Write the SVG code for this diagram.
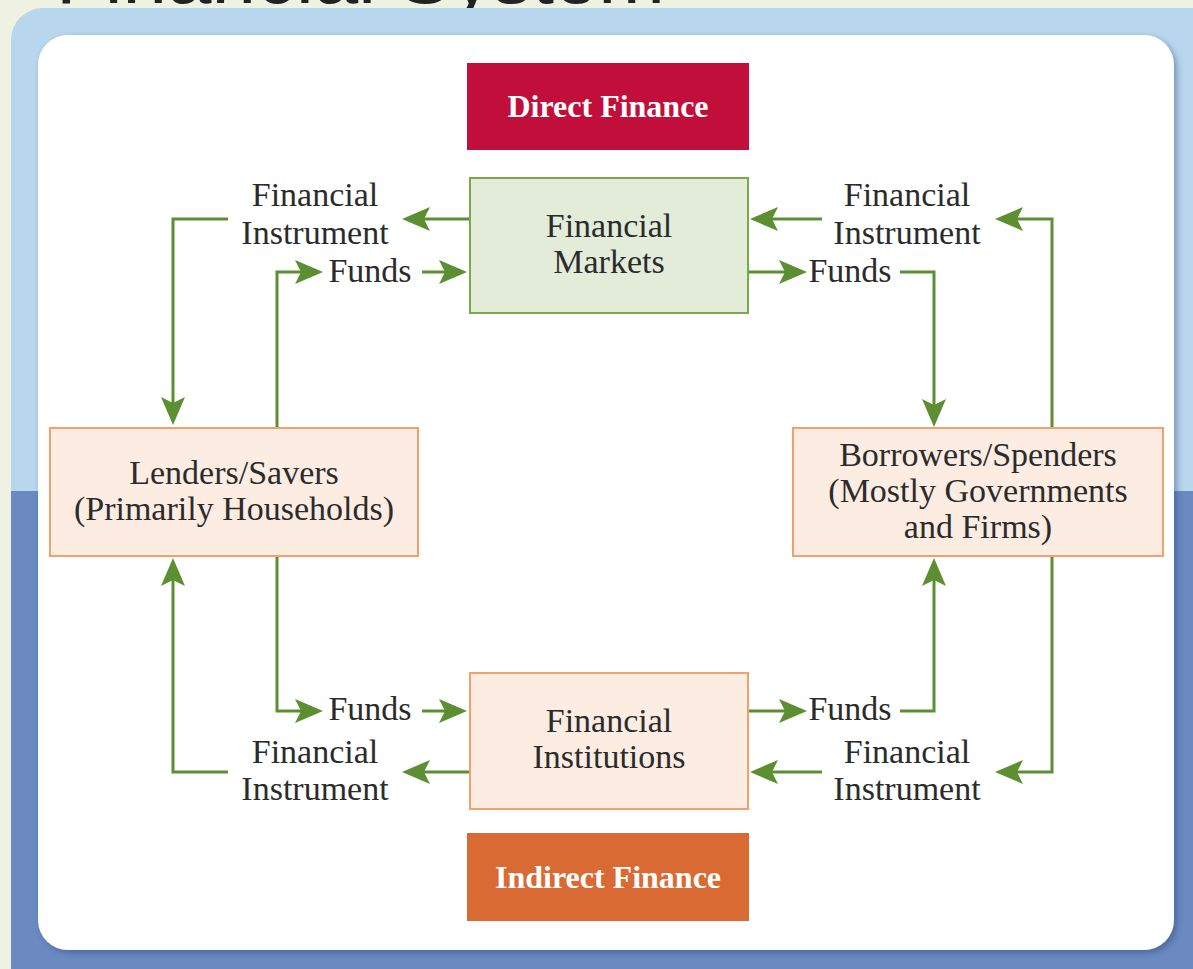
<svg xmlns="http://www.w3.org/2000/svg" width="1193" height="969" viewBox="0 0 1193 969">
  <style>
    .t { font-family: "Liberation Serif", "Times New Roman", serif; font-size: 34px; fill: #2b2b2b; text-anchor: middle; }
    .tb { font-family: "Liberation Serif", "Times New Roman", serif; font-size: 32px; font-weight: bold; fill: #ffffff; text-anchor: middle; }
    .pink { fill: #fcece1; stroke: #f2a06c; stroke-width: 2; }
    .green { fill: #e3ebd9; stroke: #78a94a; stroke-width: 2; }
    .conn path { fill: none; stroke: #5b8f32; stroke-width: 3; marker-end: url(#arr); }
  </style>
  <defs>
    <marker id="arr" markerUnits="userSpaceOnUse" markerWidth="30" markerHeight="26" refX="10" refY="12" orient="auto">
      <path d="M0,0 L28,12 L0,24 L6,12 Z" fill="#5b8f32"/>
    </marker>
    <filter id="sh" x="-5%" y="-5%" width="110%" height="110%">
      <feDropShadow dx="3" dy="3" stdDeviation="3" flood-color="#2a3f70" flood-opacity="0.45"/>
    </filter>
  </defs>

  <!-- background -->
  <rect x="0" y="0" width="1193" height="969" fill="#eff2e2"/>
  <text x="665" y="3" font-family="Liberation Sans, Arial, sans-serif" font-size="80" fill="#222" text-anchor="end">Financial System</text>
  <rect x="11" y="8" width="1212" height="1000" rx="32" fill="#b9d6ef"/>
  <rect x="11" y="491" width="1212" height="500" fill="#6b8ac2"/>
  <rect x="38" y="35" width="1136" height="915" rx="30" fill="#ffffff" filter="url(#sh)"/>

  <!-- connectors -->
  <g id="connectors" class="conn">
    <path d="M470,219 H420"/>
    <path d="M228,219 H173 V407"/>
    <path d="M277,428 V272 H305"/>
    <path d="M422,272 H449"/>
    <path d="M822,219 H768"/>
    <path d="M1052,428 V219 H1013"/>
    <path d="M748,272 H789"/>
    <path d="M900,272 H934 V409"/>
    <path d="M277,556 V711 H305"/>
    <path d="M422,711 H449"/>
    <path d="M470,772 H420"/>
    <path d="M228,772 H173 V576"/>
    <path d="M748,711 H789"/>
    <path d="M900,711 H934 V576"/>
    <path d="M1052,556 V772 H1013"/>
    <path d="M822,772 H768"/>
  </g>

  <!-- connector labels -->
  <g id="labels">
    <text class="t" x="315" y="206">Financial</text>
    <text class="t" x="315" y="244">Instrument</text>
    <text class="t" x="370" y="282">Funds</text>
    <text class="t" x="907" y="206">Financial</text>
    <text class="t" x="907" y="244">Instrument</text>
    <text class="t" x="850" y="282">Funds</text>
    <text class="t" x="370" y="720">Funds</text>
    <text class="t" x="315" y="763">Financial</text>
    <text class="t" x="315" y="800">Instrument</text>
    <text class="t" x="850" y="720">Funds</text>
    <text class="t" x="907" y="763">Financial</text>
    <text class="t" x="907" y="800">Instrument</text>
  </g>

  <g id="direct-finance">
    <rect x="467" y="63" width="282" height="87" fill="#c20e3a"/>
    <text class="tb" x="608" y="117">Direct Finance</text>
  </g>
  <g id="financial-markets">
    <rect class="green" x="470" y="178" width="278" height="135"/>
    <text class="t" x="609" y="237">Financial</text>
    <text class="t" x="609" y="273">Markets</text>
  </g>
  <g id="lenders">
    <rect class="pink" x="50" y="428" width="368" height="128"/>
    <text class="t" x="234" y="484">Lenders/Savers</text>
    <text class="t" x="234" y="520">(Primarily Households)</text>
  </g>
  <g id="borrowers">
    <rect class="pink" x="793" y="428" width="370" height="128"/>
    <text class="t" x="978" y="466">Borrowers/Spenders</text>
    <text class="t" x="978" y="502">(Mostly Governments</text>
    <text class="t" x="978" y="538">and Firms)</text>
  </g>
  <g id="financial-institutions">
    <rect class="pink" x="470" y="673" width="278" height="136"/>
    <text class="t" x="609" y="732">Financial</text>
    <text class="t" x="609" y="768">Institutions</text>
  </g>
  <g id="indirect-finance">
    <rect x="467" y="833" width="282" height="88" fill="#d96a33"/>
    <text class="tb" x="608" y="888">Indirect Finance</text>
  </g>
</svg>
